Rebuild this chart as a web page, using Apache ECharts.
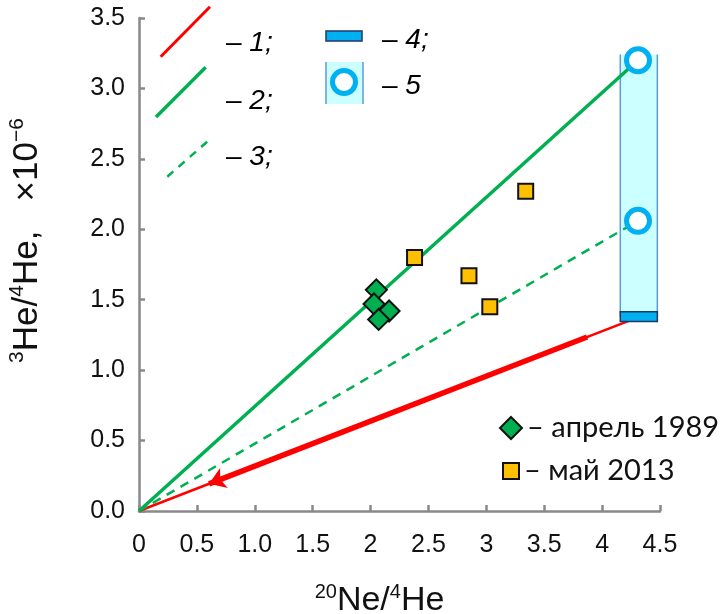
<!DOCTYPE html>
<html><head><meta charset="utf-8">
<script src="https://cdn.jsdelivr.net/npm/echarts@6/dist/echarts.min.js"></script>
<style>html,body{margin:0;padding:0;background:#fff}#c{width:722px;height:614px}</style>
</head><body><div id="c"></div>
<script>
// ---- data ----
const xTickLabels = ['0','0.5','1.0','1.5','2','2.5','3','3.5','4','4.5'];
const yTickLabels = ['0.0','0.5','1.0','1.5','2.0','2.5','3.0','3.5'];
const april1989 = [[2.05,1.57],[2.03,1.47],[2.16,1.42],[2.07,1.36]];
const may2013 = [[2.38,1.80],[2.85,1.67],[3.03,1.45],[3.34,2.27]];
const line1Thin = [[0,0],[4.28,1.366]];
const line1Arrow = [[3.87,1.235],[0.605,0.193]];
const line2 = [[0,0],[4.31,3.20]];
const line3 = [[0,0],[4.31,2.06]];
const range5 = [[4.157,1.38,4.477,3.24]];
const bar4 = [[4.157,1.345,4.477,1.415]];
const circles5 = [[4.31,3.20],[4.31,2.06]];

const F = "'Liberation Sans', Arial, sans-serif";
const FL = "Lato, 'Open Sans', sans-serif";
const chart = echarts.init(document.getElementById('c'), null, {renderer:'canvas'});

function rectItem(fill, stroke, sides){
  return function(params, api){
    const p1 = api.coord([api.value(0), api.value(1)]);
    const p2 = api.coord([api.value(2), api.value(3)]);
    const x = p1[0], y = p2[1], w = p2[0]-p1[0], h = p1[1]-p2[1];
    const children = [{type:'rect', shape:{x:x,y:y,width:w,height:h}, style:{fill:fill, stroke: sides ? null : stroke, lineWidth:1.5}}];
    if (sides){
      children.push({type:'line', shape:{x1:x,y1:y,x2:x,y2:y+h}, style:{stroke:stroke,lineWidth:1.5}});
      children.push({type:'line', shape:{x1:x+w,y1:y,x2:x+w,y2:y+h}, style:{stroke:stroke,lineWidth:1.5}});
    }
    return {type:'group', children:children};
  };
}

const legTxt = {
  d:{fontFamily:F,fontSize:28,color:'#000'},
  n:{fontFamily:F,fontSize:28,fontStyle:'italic',color:'#000'}
};
const legFmt = function(n){return '– ' + n;};
const legText = {fontFamily:FL, fontSize:29, color:'#111', lineHeight:30};

const option = {
  animation:false,
  grid:{left:139, top:18, right:62, bottom:103, outerBoundsMode:'none', containLabel:false},
  xAxis:{
    type:'value', min:0, max:4.5, interval:0.5,
    axisLine:{lineStyle:{color:'#898989',width:2.5}},
    axisTick:{inside:true,length:6,lineStyle:{color:'#898989',width:2.5}},
    splitLine:{show:false},
    axisLabel:{margin:22, fontFamily:F, fontSize:25, color:'#111',
      formatter:function(v){return xTickLabels[Math.round(v/0.5)];}},
    name:'{s|20}{b|Ne/}{s|4}{b|He}', nameLocation:'middle', nameGap:71,
    nameTextStyle:{padding:[0,40,0,0],
      rich:{b:{fontFamily:F,fontSize:34,color:'#111',lineHeight:36,verticalAlign:'bottom'},
            s:{fontFamily:F,fontSize:20,color:'#111',lineHeight:36,verticalAlign:'top'}}}
  },
  yAxis:{
    type:'value', min:0, max:3.5, interval:0.5,
    axisLine:{lineStyle:{color:'#898989',width:2.5}},
    axisTick:{inside:true,length:6,lineStyle:{color:'#898989',width:2.5}},
    splitLine:{show:false},
    axisLabel:{margin:14, fontFamily:F, fontSize:25, color:'#111',
      formatter:function(v){return yTickLabels[Math.round(v/0.5)];}},
    name:'{s|3}{b|He/}{s|4}{b|He,   ×10}{s|−6}', nameLocation:'middle', nameRotate:90, nameGap:94,
    nameTextStyle:{padding:[0,0,0,48],
      rich:{b:{fontFamily:F,fontSize:35,color:'#111',lineHeight:38,verticalAlign:'bottom'},
            s:{fontFamily:F,fontSize:21,color:'#111',lineHeight:38,verticalAlign:'top'}}}
  },
  legend:[
    {orient:'vertical', left:494, top:408, itemWidth:22, itemHeight:22, itemGap:10,
     textStyle:legText, formatter:legFmt, data:['апрель 1989']},
    {orient:'vertical', left:497, top:451, itemWidth:16, itemHeight:16, itemGap:10,
     textStyle:legText, formatter:legFmt, data:['май 2013']}
  ],
  graphic:[
    {type:'line', shape:{x1:160.7,y1:56.7,x2:210,y2:6.7}, style:{stroke:'#FF0000',lineWidth:3}},
    {type:'line', shape:{x1:156,y1:117,x2:205.7,y2:67.3}, style:{stroke:'#00B050',lineWidth:3.5}},
    {type:'line', shape:{x1:167.3,y1:176.7,x2:210,y2:139.3}, style:{stroke:'#00B050',lineWidth:2.5,lineDash:[8,7]}},
    {type:'text', left:226, top:29, style:{text:'{d|– }{n|1;}', rich:legTxt}},
    {type:'text', left:226, top:87, style:{text:'{d|– }{n|2;}', rich:legTxt}},
    {type:'text', left:226, top:143, style:{text:'{d|– }{n|3;}', rich:legTxt}},
    {type:'rect', shape:{x:326,y:31,width:36,height:10}, style:{fill:'#00B0F0',stroke:'#1F3864',lineWidth:1.5}},
    {type:'rect', shape:{x:326,y:62,width:37,height:42}, style:{fill:'#CCFFFF'}},
    {type:'line', shape:{x1:326,y1:62,x2:326,y2:104}, style:{stroke:'#5B9BD5',lineWidth:1.5}},
    {type:'line', shape:{x1:363,y1:62,x2:363,y2:104}, style:{stroke:'#5B9BD5',lineWidth:1.5}},
    {type:'circle', shape:{cx:344,cy:82,r:11.5}, style:{fill:'#fff',stroke:'#00B0F0',lineWidth:5}},
    {type:'text', left:382, top:26, style:{text:'{d|– }{n|4;}', rich:legTxt}},
    {type:'text', left:382, top:72, style:{text:'{d|– }{n|5}', rich:legTxt}}
  ],
  series:[
    {type:'custom', name:'range5', renderItem:rectItem('#CCFFFF','#5B9BD5',true), data:range5, z:1, silent:true},
    {type:'line', name:'l1thin', data:line1Thin, showSymbol:false, lineStyle:{color:'#FF0000',width:2.5}, z:2},
    {type:'lines', name:'l1arrow', coordinateSystem:'cartesian2d', symbol:['none','arrow'], symbolSize:[13,16],
      lineStyle:{color:'#FF0000',width:5.5,opacity:1}, data:[{coords:line1Arrow}], z:3},
    {type:'line', name:'l2', data:line2, showSymbol:false, lineStyle:{color:'#00B050',width:3.5}, z:3},
    {type:'line', name:'l3', data:line3, showSymbol:false, lineStyle:{color:'#00B050',width:2.5,type:[9,7]}, z:3},
    {type:'custom', name:'bar4', renderItem:rectItem('#00B0F0','#1F3864',false), data:bar4, z:4, silent:true},
    {type:'scatter', name:'circles5', data:circles5, symbol:'circle', symbolSize:23,
      itemStyle:{color:'#fff',borderColor:'#00B0F0',borderWidth:5,opacity:1}, z:5},
    {type:'scatter', name:'апрель 1989', data:april1989, symbol:'diamond', symbolSize:21,
      itemStyle:{color:'#00B050',borderColor:'#111',borderWidth:2,opacity:1}, z:6},
    {type:'scatter', name:'май 2013', data:may2013, symbol:'rect', symbolSize:15,
      itemStyle:{color:'#FFC000',borderColor:'#111',borderWidth:2,opacity:1}, z:6}
  ]
};
chart.setOption(option);
</script></body></html>
